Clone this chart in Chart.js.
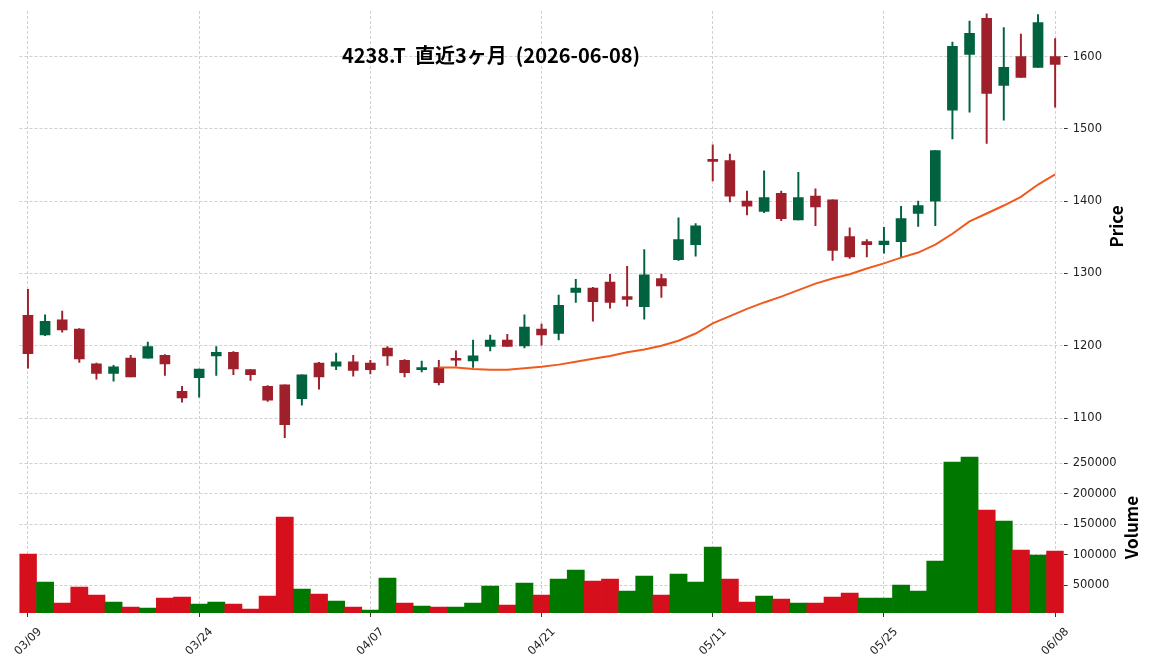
<!DOCTYPE html>
<html>
<head>
<meta charset="utf-8">
<script src="https://cdn.jsdelivr.net/npm/chart.js@4"></script>
<style>
  html, body { margin: 0; padding: 0; background: #fff; }
  canvas { display: block; }
</style>
</head>
<body>
<canvas id="chart" width="1152" height="670"></canvas>
<script>
// 4238.T daily, last 3 months
const dates = [
  '03/09', '03/10', '03/11', '03/12', '03/13', '03/16', '03/17', '03/18', '03/19', '03/23',
  '03/24', '03/25', '03/26', '03/27', '03/30', '03/31', '04/01', '04/02', '04/03', '04/06',
  '04/07', '04/08', '04/09', '04/10', '04/13', '04/14', '04/15', '04/16', '04/17', '04/20',
  '04/21', '04/22', '04/23', '04/24', '04/27', '04/28', '04/30', '05/01', '05/07', '05/08',
  '05/11', '05/12', '05/13', '05/14', '05/15', '05/18', '05/19', '05/20', '05/21', '05/22',
  '05/25', '05/26', '05/27', '05/28', '05/29', '06/01', '06/02', '06/03', '06/04', '06/05',
  '06/08'
];
const opens = [
  1242, 1215, 1236, 1223, 1175, 1162, 1183, 1183, 1187, 1137,
  1156, 1186, 1191, 1167, 1144, 1146, 1127, 1176, 1172, 1178,
  1176, 1197, 1180, 1167, 1170, 1181, 1179, 1199, 1208, 1200,
  1223, 1217, 1274, 1280, 1288, 1268, 1254, 1293, 1319, 1340,
  1456, 1456, 1400, 1386, 1411, 1374, 1407, 1402, 1351, 1344,
  1340, 1344, 1383, 1400, 1526, 1603, 1653, 1560, 1600, 1585,
  1600
];
const highs = [
  1278, 1243, 1248, 1224, 1176, 1173, 1187, 1205, 1188, 1144,
  1168, 1199, 1192, 1167, 1145, 1146, 1160, 1177, 1190, 1187,
  1180, 1199, 1181, 1179, 1180, 1193, 1208, 1215, 1216, 1243,
  1230, 1270, 1292, 1281, 1299, 1310, 1333, 1299, 1377, 1369,
  1478, 1465, 1414, 1442, 1414, 1440, 1417, 1402, 1363, 1347,
  1364, 1393, 1400, 1470, 1620, 1649, 1659, 1640, 1631, 1658,
  1625
];
const lows = [
  1169, 1214, 1219, 1177, 1154, 1151, 1157, 1183, 1159, 1122,
  1129, 1159, 1160, 1152, 1123, 1073, 1118, 1140, 1167, 1158,
  1161, 1173, 1157, 1164, 1146, 1172, 1170, 1193, 1199, 1197,
  1201, 1208, 1260, 1234, 1252, 1255, 1237, 1267, 1318, 1324,
  1428, 1399, 1381, 1384, 1373, 1374, 1366, 1318, 1321, 1323,
  1328, 1323, 1365, 1366, 1486, 1523, 1480, 1512, 1571, 1585,
  1530
];
const closes = [
  1189, 1234, 1222, 1182, 1162, 1171, 1157, 1199, 1175, 1128,
  1168, 1191, 1168, 1160, 1125, 1091, 1160, 1157, 1178, 1166,
  1167, 1186, 1163, 1169, 1149, 1180, 1186, 1208, 1199, 1226,
  1215, 1256, 1280, 1261, 1260, 1264, 1298, 1283, 1347, 1366,
  1455, 1407, 1393, 1405, 1376, 1405, 1392, 1332, 1323, 1340,
  1345, 1376, 1394, 1470, 1614, 1632, 1549, 1585, 1571, 1647,
  1589
];
const volumes = [
  101400, 55400, 21000, 47200, 34100, 22600, 14400, 12800, 29200, 30800,
  19300, 22600, 19300, 11100, 32500, 162000, 43900, 35700, 24300, 14400,
  9500, 62000, 21000, 16100, 14400, 14400, 21000, 48900, 17700, 53800,
  34100, 60300, 75100, 57000, 60300, 40700, 65200, 34100, 68500, 55400,
  112800, 60300, 22600, 32500, 27500, 21000, 21000, 30800, 37400, 29200,
  29200, 50500, 40700, 89800, 252100, 260300, 173400, 155400, 107900, 99700,
  106200
];
// 25-day moving average
const ma25 = [
  null, null, null, null, null, null, null, null, null, null,
  null, null, null, null, null, null, null, null, null, null,
  null, null, null, null, 1170, 1170, 1168, 1167, 1167, 1169,
  1171, 1174, 1178, 1182, 1186, 1191, 1195, 1200, 1207, 1217,
  1231, 1241, 1251, 1260, 1268, 1277, 1286, 1293, 1299, 1307,
  1314, 1322, 1329, 1340, 1355, 1372, 1383, 1394, 1406, 1423,
  1437
];
const priceTicks = [1100, 1200, 1300, 1400, 1500, 1600];
const volumeTicks = [50000, 100000, 150000, 200000, 250000];
const titleText = '4238.T  直近3ヶ月  (2026-06-08)';

const candleUp = '#00623e';
const candleDown = '#9f1f2a';
const volUp = '#007800';
const volDown = '#d50f1b';

const candleColors = opens.map((o, i) => closes[i] >= o ? candleUp : candleDown);
const volColors = closes.map((c, i) => {
  const ref = i === 0 ? opens[0] : closes[i - 1];
  return c >= ref ? volUp : volDown;
});

const tickFont = { family: 'DejaVu Sans', size: 11.5 };
const gridColor = '#c4c4c4';

const panelText = {
  id: 'panelText',
  afterDraw(chart) {
    const ctx = chart.ctx;
    const yP = chart.scales.yP;
    const yV = chart.scales.yV;
    ctx.save();
    ctx.fillStyle = '#000';
    ctx.textAlign = 'center';
    ctx.textBaseline = 'middle';
    ctx.font = 'bold 20px "Noto Sans CJK JP"';
    ctx.fillText(titleText, 491, 55);
    ctx.font = 'bold 17px "Noto Sans CJK JP"';
    [['Price', 1117, (yP.top + yP.bottom) / 2], ['Volume', 1132, (yV.top + yV.bottom) / 2]].forEach(([t, x, y]) => {
      ctx.save();
      ctx.translate(x, y);
      ctx.rotate(-Math.PI / 2);
      ctx.fillText(t, 0, 0);
      ctx.restore();
    });
    ctx.restore();
  }
};

function fixY(scale) {
  scale.width = 88.3;
  scale.paddingTop = 0;
  scale.paddingBottom = 0;
}

function yAxis(stackWeight, min, max, tickValues) {
  return {
    type: 'linear',
    position: 'right',
    stack: 'panels',
    stackWeight: stackWeight,
    min: min,
    max: max,
    border: { display: false, dash: [3, 2] },
    grid: {
      color: gridColor,
      lineWidth: 0.8,
      tickLength: 4,
      tickColor: '#333',
      tickWidth: 1
    },
    ticks: {
      padding: 5,
      color: '#222',
      font: tickFont,
      callback: (v) => String(v)
    },
    afterBuildTicks(scale) {
      scale.ticks = tickValues.map((v) => ({ value: v }));
    },
    afterFit: fixY
  };
}

new Chart(document.getElementById('chart'), {
  type: 'bar',
  data: {
    labels: dates,
    datasets: [
      {
        type: 'line',
        label: 'MA25',
        data: ma25,
        yAxisID: 'yP',
        borderColor: '#f05a1e',
        borderWidth: 2,
        pointRadius: 0,
        fill: false,
        tension: 0,
        order: 0
      },
      {
        label: 'body',
        data: opens.map((o, i) => [o, closes[i]]),
        yAxisID: 'yP',
        backgroundColor: candleColors,
        barThickness: 10,
        minBarLength: 2,
        grouped: false,
        order: 1
      },
      {
        label: 'wick',
        data: lows.map((l, i) => [l, highs[i]]),
        yAxisID: 'yP',
        backgroundColor: candleColors,
        barThickness: 1.3,
        grouped: false,
        order: 2
      },
      {
        label: 'Volume',
        data: volumes,
        yAxisID: 'yV',
        backgroundColor: volColors,
        barPercentage: 1,
        categoryPercentage: 1,
        grouped: false,
        order: 3
      }
    ]
  },
  options: {
    responsive: false,
    animation: false,
    devicePixelRatio: 1,
    layout: { padding: { left: 19.4, top: 11, right: 0, bottom: 0 } },
    plugins: {
      legend: { display: false },
      tooltip: { enabled: false },
      title: { display: false }
    },
    scales: {
      x: {
        type: 'category',
        offset: true,
        border: { display: false, dash: [3, 2] },
        grid: {
          offset: false,
          color: gridColor,
          lineWidth: 0.8,
          tickLength: 4,
          tickColor: '#333',
          tickWidth: 1
        },
        ticks: {
          autoSkip: false,
          minRotation: 45,
          maxRotation: 45,
          labelOffset: 12,
          padding: 8,
          color: '#222',
          font: tickFont,
          callback: function (value, index) {
            return index % 10 === 0 ? dates[index] : null;
          }
        },
        afterFit(scale) {
          scale.height = 57;
          scale.paddingLeft = 0;
          scale.paddingRight = 0;
        }
      },
      yP: yAxis(431, 1067, 1663, priceTicks),
      yV: yAxis(171, 4650, 285000, volumeTicks)
    }
  },
  plugins: [panelText]
});
</script>
</body>
</html>
